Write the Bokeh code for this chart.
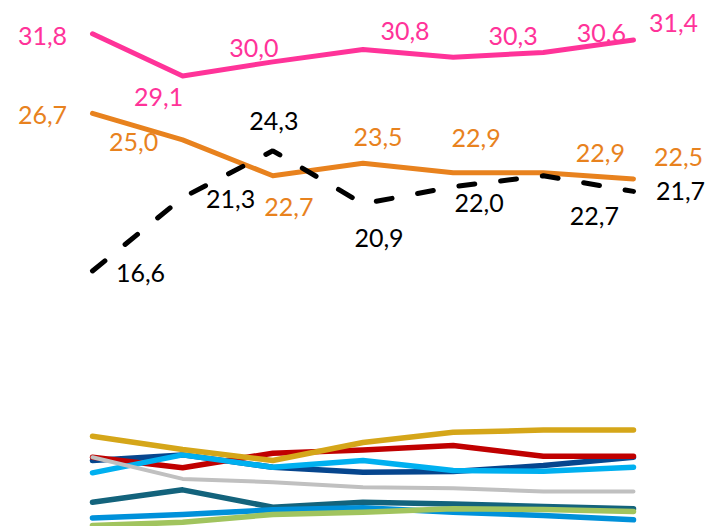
from bokeh.plotting import figure
from bokeh.models import ColumnDataSource, Range1d
from bokeh.core.properties import value
from bokeh.embed import file_html
from bokeh.resources import INLINE

# x positions (7 periods, no visible labels)
periods = [0, 1, 2, 3, 4, 5, 6]

# labelled series
pink = [31.8, 29.1, 30.0, 30.8, 30.3, 30.6, 31.4]
orange = [26.7, 25.0, 22.7, 23.5, 22.9, 22.9, 22.5]
black = [16.6, 21.3, 24.3, 20.9, 22.0, 22.7, 21.7]

# unlabelled series
gold = [6.0, 5.15, 4.45, 5.6, 6.26, 6.4, 6.4]
red = [4.66, 3.98, 4.92, 5.13, 5.41, 4.72, 4.72]
darkblue = [4.45, 4.81, 4.02, 3.7, 3.74, 4.13, 4.66]
lightblue = [3.66, 4.81, 4.02, 4.45, 3.81, 3.76, 4.02]
gray = [4.66, 3.27, 3.06, 2.74, 2.67, 2.46, 2.46]
teal = [1.77, 2.57, 1.45, 1.77, 1.67, 1.5, 1.35]
midblue = [0.77, 0.99, 1.29, 1.42, 1.13, 0.92, 0.65]
green = [0.28, 0.49, 0.99, 1.13, 1.35, 1.31, 1.18]

# label offsets in screen pixels (style, not data)
pink_dx = [-50, -24, -19, 42, 60, 58, 40]
pink_dy = [2.2, 20.6, -13.4, -18.9, -21.2, -19.5, -17.5]
orange_dx = [-50, -49, 16, 15, 23, 57, 45]
orange_dy = [1.6, 2.6, 31.7, -26.3, -35.1, -19.6, -22.4]
black_dx = [48, 48, 1, 16, 26, 51, 47]
black_dy = [1.6, 0.9, -29.8, 33.7, 15.8, 40.2, 0.1]

p = figure(width=710, height=526, output_backend="svg", toolbar_location=None,
           x_range=Range1d(-1.020, 6.854), y_range=Range1d(0.22, 33.935),
           min_border=0)
p.xaxis.visible = False
p.yaxis.visible = False
p.grid.visible = False
p.outline_line_color = None
p.background_fill_color = "white"
p.border_fill_color = "white"

W = 5.5
bottom_series = [
    (teal, "#13637C", W),
    (midblue, "#0091DA", W),
    (green, "#A1C45E", W),
    (darkblue, "#06468E", W),
    (red, "#C00000", W),
    (lightblue, "#00B0F0", W),
    (gray, "#C0C0C0", 4),
    (gold, "#D5A619", W),
]
for ys, col, lw in bottom_series:
    p.line(periods, ys, line_color=col, line_width=lw, line_cap="round", line_join="round")

ORANGE = "#E8821E"
PINK = "#FF3399"
p.line(periods, orange, line_color=ORANGE, line_width=5, line_cap="round", line_join="round")
p.line(periods, black, line_color="black", line_width=5, line_cap="round", line_dash="16 26")
p.line(periods, pink, line_color=PINK, line_width=5, line_cap="round", line_join="round")

def labels(ys, dx, dy, col):
    src = ColumnDataSource(dict(x=periods, y=ys, t=[f"{v:.1f}".replace(".", ",") for v in ys],
                                dx=dx, dy=dy))
    p.text(x="x", y="y", text="t", x_offset="dx", y_offset="dy", source=src,
           text_color=col, text_font=value("Lato"), text_font_size="25px",
           text_align="center", text_baseline="middle")

labels(pink, pink_dx, pink_dy, PINK)
labels(orange, orange_dx, orange_dy, ORANGE)
labels(black, black_dx, black_dy, "black")

open("out.html", "w").write(file_html(p, INLINE))
